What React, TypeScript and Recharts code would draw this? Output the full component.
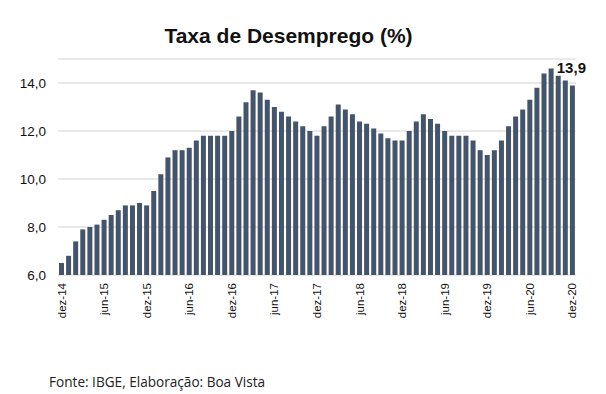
import React from 'react';
import { BarChart, Bar, XAxis, YAxis, CartesianGrid, LabelList } from 'recharts';

const months = [
  'dez-14',
  'jan-15', 'fev-15', 'mar-15', 'abr-15', 'mai-15', 'jun-15', 'jul-15', 'ago-15', 'set-15', 'out-15', 'nov-15', 'dez-15',
  'jan-16', 'fev-16', 'mar-16', 'abr-16', 'mai-16', 'jun-16', 'jul-16', 'ago-16', 'set-16', 'out-16', 'nov-16', 'dez-16',
  'jan-17', 'fev-17', 'mar-17', 'abr-17', 'mai-17', 'jun-17', 'jul-17', 'ago-17', 'set-17', 'out-17', 'nov-17', 'dez-17',
  'jan-18', 'fev-18', 'mar-18', 'abr-18', 'mai-18', 'jun-18', 'jul-18', 'ago-18', 'set-18', 'out-18', 'nov-18', 'dez-18',
  'jan-19', 'fev-19', 'mar-19', 'abr-19', 'mai-19', 'jun-19', 'jul-19', 'ago-19', 'set-19', 'out-19', 'nov-19', 'dez-19',
  'jan-20', 'fev-20', 'mar-20', 'abr-20', 'mai-20', 'jun-20', 'jul-20', 'ago-20', 'set-20', 'out-20', 'nov-20', 'dez-20',
];

const rates = [
  6.5,
  6.8, 7.4, 7.9, 8.0, 8.1, 8.3, 8.5, 8.7, 8.9, 8.9, 9.0, 8.9,
  9.5, 10.2, 10.9, 11.2, 11.2, 11.3, 11.6, 11.8, 11.8, 11.8, 11.8, 12.0,
  12.6, 13.2, 13.7, 13.6, 13.3, 13.0, 12.8, 12.6, 12.4, 12.2, 12.0, 11.8,
  12.2, 12.6, 13.1, 12.9, 12.7, 12.4, 12.3, 12.1, 11.9, 11.7, 11.6, 11.6,
  12.0, 12.4, 12.7, 12.5, 12.3, 12.0, 11.8, 11.8, 11.8, 11.6, 11.2, 11.0,
  11.2, 11.6, 12.2, 12.6, 12.9, 13.3, 13.8, 14.4, 14.6, 14.3, 14.1, 13.9,
];

const yTicks = [6, 8, 10, 12, 14];

const title = 'Taxa de Desemprego (%)';
const source = 'Fonte: IBGE, Elaboração: Boa Vista';

const data = months.map((m, i) => ({ m, v: rates[i] }));
const lastIndex = data.length - 1;

const fmt = (v: number) => v.toFixed(1).replace('.', ',');

const XTick = (props: any) => {
  const { x, y, payload } = props;
  return (
    <text
      x={x}
      y={y}
      transform={`rotate(-90 ${x} ${y})`}
      textAnchor="end"
      dy="0.35em"
      fontSize={11.5}
      fontFamily="'Liberation Sans', Arial, sans-serif"
      fill="#111"
    >
      {payload.value}
    </text>
  );
};

const LastLabel = (props: any) => {
  const { x, y, width, index, value } = props;
  if (index !== lastIndex) return null;
  return (
    <text
      x={x + width / 2 - 1}
      y={y - 12}
      textAnchor="middle"
      fontSize={15}
      fontWeight="bold"
      fontFamily="'Liberation Sans', Arial, sans-serif"
      fill="#111"
    >
      {fmt(value)}
    </text>
  );
};

export default function App() {
  return (
    <div style={{ position: 'absolute', left: 0, top: 0, width: 606, height: 394, background: '#fff' }}>
      <svg width={606} height={394} style={{ position: 'absolute', left: 0, top: 0 }}>
        <text
          x={288.5}
          y={43}
          textAnchor="middle"
          fontSize={21}
          fontWeight="bold"
          fontFamily="'Liberation Sans', Arial, sans-serif"
          fill="#111"
        >
          {title}
        </text>
        <text x={49} y={387} fontSize={13.6} fontFamily="'Open Sans', sans-serif" fill="#222">
          {source}
        </text>
      </svg>
      <div style={{ position: 'absolute', left: 0, top: 0 }}>
        <BarChart
          width={606}
          height={340}
          data={data}
          margin={{ top: 59, right: 30, left: 0, bottom: 0 }}
          barCategoryGap="14%"
        >
          <CartesianGrid vertical={false} stroke="#e2e2e2" strokeWidth={1.5} />
          <XAxis
            dataKey="m"
            interval={5}
            tick={<XTick />}
            tickLine={false}
            axisLine={false}
            height={65}
          />
          <YAxis
            domain={[6, 15]}
            ticks={yTicks}
            tickFormatter={fmt}
            tickLine={false}
            axisLine={false}
            width={58}
            tickMargin={6}
            tick={{ fontSize: 13.5, fill: '#111', fontFamily: "'Liberation Sans', Arial, sans-serif" }}
          />
          <Bar dataKey="v" fill="#44546a" isAnimationActive={false}>
            <LabelList dataKey="v" content={<LastLabel />} />
          </Bar>
        </BarChart>
      </div>
    </div>
  );
}
